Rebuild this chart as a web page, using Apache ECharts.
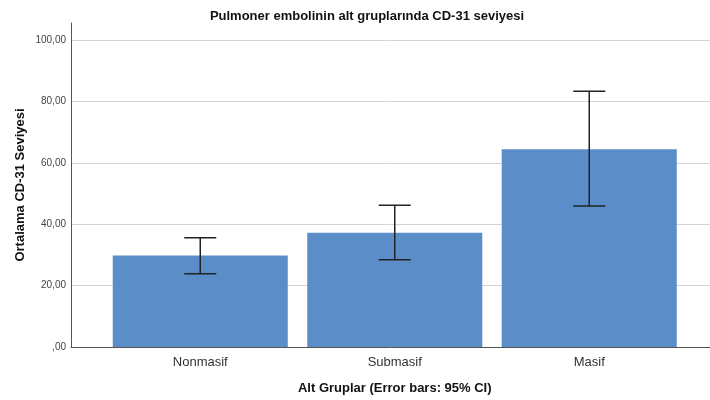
<!DOCTYPE html>
<html>
<head>
<meta charset="utf-8">
<script src="https://cdn.jsdelivr.net/npm/echarts@6/dist/echarts.min.js"></script>
<style>
  html, body { margin: 0; padding: 0; background: #fff; }
  #main { width: 710px; height: 400px; }
</style>
</head>
<body>
<div id="main"></div>
<script>
// 数据
var categories = ["Nonmasif", "Submasif", "Masif"];
var means = [29.8, 37.2, 64.4];
var ciLow = [23.9, 28.4, 45.9];
var ciHigh = [35.6, 46.2, 83.3];
var yTicks = [0, 20, 40, 60, 80, 100];

(function () {
  var myChart = echarts.init(document.getElementById("main"));
  var font = "Liberation Sans, Arial, sans-serif";

  // error bar data: [index, low, high]
  var errData = categories.map(function (c, i) {
    return [i, ciLow[i], ciHigh[i]];
  });

  function fmt(v) {
    if (v === 0) return ",00";
    return v.toFixed(2).replace(".", ",");
  }

  var option = {
    animation: false,
    title: {
      text: "Pulmoner embolinin alt gruplarında CD-31 seviyesi",
      left: 362,
      textAlign: "center",
      top: 5,
      textStyle: { fontFamily: font, fontSize: 13, fontWeight: "bold", color: "#111" }
    },
    grid: [
      // 轴线
      { left: 71, right: 0, top: 23, bottom: 53 },
      // 网格线 + 刻度
      { left: 71, right: 0, top: 40, bottom: 53 },
      // 柱子
      { left: 103, right: 23.5, top: 40, bottom: 53 }
    ],
    xAxis: [
      {
        gridIndex: 0, type: "category", data: [""],
        axisLine: { lineStyle: { color: "#555", width: 1 } },
        axisTick: { show: false }, axisLabel: { show: false }
      },
      {
        gridIndex: 1, type: "category", data: [""], show: false
      },
      {
        gridIndex: 2, type: "category", data: categories,
        axisLine: { show: false }, axisTick: { show: false },
        axisLabel: { fontFamily: font, fontSize: 13, color: "#333", margin: 9 },
        name: "Alt Gruplar (Error bars: 95% CI)",
        nameLocation: "middle",
        nameGap: 35,
        nameTextStyle: { fontFamily: font, fontSize: 13, fontWeight: "bold", color: "#111" }
      }
    ],
    yAxis: [
      {
        gridIndex: 0, type: "value", min: 0, max: 105.5,
        axisLine: { show: true, lineStyle: { color: "#555", width: 1 } },
        axisTick: { show: false }, axisLabel: { show: false }, splitLine: { show: false },
        name: "Ortalama CD-31 Seviyesi",
        nameLocation: "middle",
        nameGap: 44,
        nameTextStyle: { fontFamily: font, fontSize: 13, fontWeight: "bold", color: "#111" }
      },
      {
        gridIndex: 1, type: "value", min: yTicks[0], max: yTicks[yTicks.length - 1], interval: 20,
        axisLine: { show: false }, axisTick: { show: false },
        axisLabel: { fontFamily: font, fontSize: 10, color: "#444", margin: 5, formatter: fmt },
        splitLine: { lineStyle: { color: "#d4d4d4", width: 1 } }
      },
      {
        gridIndex: 2, type: "value", min: 0, max: 100, show: false, splitLine: { show: false }
      }
    ],
    series: [
      {
        name: "Ortalama",
        type: "bar",
        xAxisIndex: 2,
        yAxisIndex: 2,
        barWidth: "90%",
        data: means,
        itemStyle: { color: "#5b8ec9" },
        z: 2
      },
      {
        name: "95% CI",
        type: "custom",
        xAxisIndex: 2,
        yAxisIndex: 2,
        data: errData,
        z: 3,
        renderItem: function (params, api) {
          var x = api.value(0);
          var lo = api.coord([x, api.value(1)]);
          var hi = api.coord([x, api.value(2)]);
          var half = 16;
          var style = { stroke: "#222", lineWidth: 1.5 };
          return {
            type: "group",
            children: [
              { type: "line", shape: { x1: hi[0], y1: hi[1], x2: lo[0], y2: lo[1] }, style: style },
              { type: "line", shape: { x1: hi[0] - half, y1: hi[1], x2: hi[0] + half, y2: hi[1] }, style: style },
              { type: "line", shape: { x1: lo[0] - half, y1: lo[1], x2: lo[0] + half, y2: lo[1] }, style: style }
            ]
          };
        }
      }
    ]
  };

  myChart.setOption(option);
  window.addEventListener("resize", function () {
    myChart.resize();
  });
})();
</script>
</body>
</html>
